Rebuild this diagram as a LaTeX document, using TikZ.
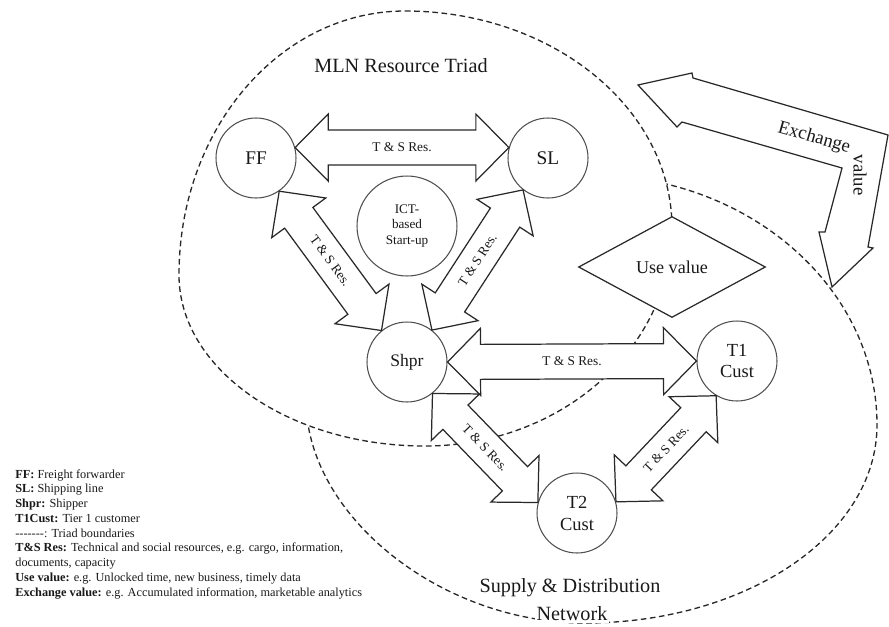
\documentclass[tikz,border=0pt]{standalone}
\usepackage{fontspec}
\setmainfont{Liberation Serif}
\usepackage{tikz}
\usetikzlibrary{calc, shapes.geometric}
\definecolor{lineDark}{RGB}{40,40,40}
\definecolor{ringGray}{RGB}{80,80,80}
\definecolor{textDark}{RGB}{25,25,25}

% block arrow geometry: head length, head half-width, shaft half-width
\newcommand{\reshl}{0.66cm}
\newcommand{\reshw}{0.67cm}
\newcommand{\ressw}{0.35cm}

% two-headed block arrow between tips #1 and #2, label #3 along it
\newcommand{\resarrow}[3]{%
  \draw[resblock]
    (#1)
    -- ($(#1)!\reshl!(#2)!\reshw!90:(#2)$)
    -- ($(#1)!\reshl!(#2)!\ressw!90:(#2)$)
    -- ($(#2)!\reshl!(#1)!\ressw!-90:(#1)$)
    -- ($(#2)!\reshl!(#1)!\reshw!-90:(#1)$)
    -- (#2)
    -- ($(#2)!\reshl!(#1)!\reshw!90:(#1)$)
    -- ($(#2)!\reshl!(#1)!\ressw!90:(#1)$)
    -- ($(#1)!\reshl!(#2)!\ressw!-90:(#2)$)
    -- ($(#1)!\reshl!(#2)!\reshw!-90:(#2)$)
    -- cycle;
  \path (#1) -- node[reslabel, sloped] {#3} (#2);
}

\begin{document}
\begin{tikzpicture}[
    x=0.02cm, y=-0.02cm,
    every node/.style={text=textDark},
    boundary/.style={draw=lineDark, line width=0.75pt, dash pattern=on 3.2pt off 2pt},
    actor/.style={circle, draw=ringGray, line width=0.6pt, fill=white,
        minimum size=1.6cm, inner sep=0pt, align=center},
    resblock/.style={draw=lineDark, line width=0.7pt, fill=white, line join=miter},
    reslabel/.style={font=\fontsize{7.6}{9}\selectfont, inner sep=0pt},
    title/.style={font=\fontsize{11.5}{15.4}\selectfont, inner sep=1pt},
]
% Canvas: pixel grid, x in [0, 889], y in [0, 626] (y grows downwards)
\useasboundingbox (0,0) rectangle (889,626);

% --- Triad boundaries: network first, resource triad painted over it ---
\draw[boundary]
    (590,175) .. controls (748,175) and (877,287) .. (877,425)
              .. controls (877,535) and (746,623) .. (585,623)
              .. controls (440,623) and (306,515) .. (306,400)
              .. controls (306,276) and (433,175) .. (590,175) -- cycle;
\draw[boundary, fill=white]
    (405,11)  .. controls (552,11)  and (672,108) .. (672,228)
              .. controls (672,348) and (561,446) .. (425,446)
              .. controls (289,446) and (179,369) .. (179,275)
              .. controls (179,129) and (280,11)  .. (405,11) -- cycle;

\node[title] (mlntitle) at (401,66) {MLN Resource Triad};
\node[title] (sdntitle) at (570,588) {Supply \& Distribution};
\node[title, fill=white] (sdnnet) at (572,614) {Network};

% --- Actors ---
\node[actor, font=\fontsize{11}{12.5}\selectfont] (ff) at (256,158) {FF};
\node[actor, font=\fontsize{11}{12.5}\selectfont] (sl) at (548,158) {SL};
\node[actor, minimum size=2cm, font=\fontsize{7.5}{8.6}\selectfont]
    (ict) at (407,226) {ICT-\\based\\Start-up};
\node[actor, font=\fontsize{10}{12}\selectfont] (shpr) at (407,362) {Shpr};
\node[actor, font=\fontsize{10.5}{12.5}\selectfont] (tonecust) at (737,361) {T1\\Cust};
\node[actor, font=\fontsize{10.5}{12.5}\selectfont] (ttwocust) at (577,513) {T2\\Cust};

% --- Resource flows (T & S Res.) ---
\resarrow{ff.15}{sl.165}{T \& S Res.}
\resarrow{ff.-55}{shpr.129}{T \& S Res.}
\resarrow{shpr.52}{sl.232}{T \& S Res.}
\resarrow{shpr.east}{tonecust.west}{T \& S Res.}
\resarrow{shpr.-51}{ttwocust.165}{T \& S Res.}
\resarrow{ttwocust.16}{tonecust.-121}{T \& S Res.}

% --- Use value / Exchange value ---
\node[diamond, aspect=1.85, draw=lineDark, line width=0.7pt, fill=white,
    minimum width=3.74cm, minimum height=2.02cm, inner sep=0pt,
    font=\fontsize{10.3}{12}\selectfont] (usevalue) at (672,267) {Use value};

\draw[resblock]
    (638,85) -- (692,73) -- (693,78) -- (888,135) -- (868,247) -- (873,248)
    -- (832,287) -- (819,232) -- (825,232) -- (842,168) -- (682,122)
    -- (677,127) -- cycle;
\node[font=\fontsize{10.7}{12}\selectfont, rotate=-16, inner sep=0pt]
    (exchange) at (814,138) {Exchange};
\node[font=\fontsize{10.7}{12}\selectfont, rotate=-90, inner sep=0pt]
    (exvalue) at (860,175) {value};

% --- Legend ---
\node[anchor=north west, align=left, inner sep=0pt,
    font=\fontsize{7}{8.4}\selectfont] (legend) at (15,469) {%
  \textbf{FF:} Freight forwarder\\
  \textbf{SL:} Shipping line\\
  \textbf{Shpr:} Shipper\\
  \textbf{T1Cust:} Tier 1 customer\\
  -{}-{}-{}-{}-{}-{}-: Triad boundaries\\
  \textbf{T\&S Res:} Technical and social resources, e.g. cargo, information,\\
  documents, capacity\\
  \textbf{Use value:} e.g. Unlocked time, new business, timely data\\
  \textbf{Exchange value:} e.g. Accumulated information, marketable analytics};

\end{tikzpicture}
\end{document}
